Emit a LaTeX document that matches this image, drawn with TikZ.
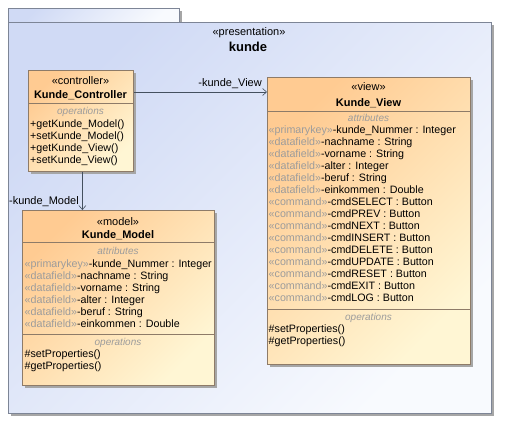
\documentclass[tikz,border=0pt]{standalone}
\usepackage{fontspec}
\setmainfont{Liberation Sans}
\usetikzlibrary{arrows.meta,shadows}
\definecolor{pkgA}{HTML}{D0DAF5}
\definecolor{pkgB}{HTML}{F8FAFE}
\definecolor{pkgLine}{HTML}{7D8596}
\definecolor{clsA}{HTML}{FFCB92}
\definecolor{clsB}{HTML}{FFF6D4}
\definecolor{clsLine}{HTML}{8E7B68}
\definecolor{stereo}{HTML}{9C9C9C}
\definecolor{conn}{HTML}{44505F}
\begin{document}
\begin{tikzpicture}[x=1pt,y=-1pt,
  shadowed/.style={general shadow={fill=black!35, shadow xshift=2.5pt, shadow yshift=-2.5pt}},
  pkgbox/.style={draw=pkgLine, line width=0.8pt, top color=pkgA, bottom color=pkgB, shading angle=45, inner sep=0pt, anchor=north west, shadowed},
  classbox/.style={draw=clsLine, line width=0.8pt, top color=clsA, bottom color=clsB, shading angle=45, inner sep=0pt, anchor=north west, shadowed},
  sepline/.style={draw=clsLine, line width=0.6pt},
  txt/.style={inner sep=0pt, anchor=base west, font=\fontsize{10.7}{12}\selectfont},
  ctxt/.style={inner sep=0pt, anchor=base, font=\fontsize{11}{12}\selectfont},
  ttl/.style={inner sep=0pt, anchor=base, font=\fontsize{11}{12}\selectfont\bfseries},
  comp/.style={inner sep=0pt, anchor=base, text=stereo, font=\fontsize{10}{12}\selectfont\itshape},
  assoc/.style={draw=conn, line width=0.6pt},
]
\useasboundingbox (0,0) rectangle (513,436);
\fill[white] (0,0) rectangle (513,436);

% package
\node[pkgbox, minimum width=171pt, minimum height=16pt] (tab) at (8,8) {};
\node[pkgbox, minimum width=483pt, minimum height=391pt] (pkg) at (8,22) {};
\node[ctxt] (pst) at (249,36) {«presentation»};
\node[inner sep=0pt, anchor=base, font=\fontsize{13}{14}\selectfont\bfseries] (pname) at (248,52) {kunde};

% controller
\node[classbox, minimum width=105pt, minimum height=101pt] (ctrl) at (28,70) {};
\node[ctxt] (cst) at (80.5,84) {«controller»};
\node[ttl] (cname) at (80.5,98) {Kunde\_Controller};
\draw[sepline] (ctrl.west |- 0,103) -- (ctrl.east |- 0,103);
\node[comp] (cops) at (80.5,114.5) {operations};
\foreach \tx [count=\i from 0] in {+getKunde\_Model(),+setKunde\_Model(),+getKunde\_View(),+setKunde\_View()}
  \node[txt] (c\i) at (30,127+12*\i) {\tx};

% view
\node[classbox, minimum width=203pt, minimum height=287pt] (view) at (267,77) {};
\node[ctxt] (vst) at (368.5,90) {«view»};
\node[ttl] (vname) at (368.5,106) {Kunde\_View};
\draw[sepline] (view.west |- 0,111) -- (view.east |- 0,111);
\node[comp] (vattr) at (368.5,121.5) {attributes};
\foreach \st/\tx [count=\i from 0] in {
  primarykey/-kunde\_Nummer : Integer,
  datafield/-nachname : String,
  datafield/-vorname : String,
  datafield/-alter : Integer,
  datafield/-beruf : String,
  datafield/-einkommen : Double,
  command/-cmdSELECT : Button,
  command/-cmdPREV : Button,
  command/-cmdNEXT : Button,
  command/-cmdINSERT : Button,
  command/-cmdDELETE : Button,
  command/-cmdUPDATE : Button,
  command/-cmdRESET : Button,
  command/-cmdEXIT : Button,
  command/-cmdLOG : Button}
  \node[txt] (v\i) at (268.5,133+12*\i) {\textcolor{stereo}{«\st»}\tx};
\draw[sepline] (view.west |- 0,309) -- (view.east |- 0,309);
\node[comp] (vops) at (368.5,320.5) {operations};
\node[txt] (vset) at (268.5,332) {\#setProperties()};
\node[txt] (vget) at (268.5,344) {\#getProperties()};

% model
\node[classbox, minimum width=192pt, minimum height=175pt] (model) at (22,210) {};
\node[ctxt] (mst) at (118,225) {«model»};
\node[ttl] (mname) at (118,238) {Kunde\_Model};
\draw[sepline] (model.west |- 0,242) -- (model.east |- 0,242);
\node[comp] (mattr) at (118,254.5) {attributes};
\foreach \st/\tx [count=\i from 0] in {
  primarykey/-kunde\_Nummer : Integer,
  datafield/-nachname : String,
  datafield/-vorname : String,
  datafield/-alter : Integer,
  datafield/-beruf : String,
  datafield/-einkommen : Double}
  \node[txt] (m\i) at (24.5,267+12*\i) {\textcolor{stereo}{«\st»}\tx};
\draw[sepline] (model.west |- 0,334) -- (model.east |- 0,334);
\node[comp] (mops) at (118,345.5) {operations};
\node[txt] (mset) at (24.5,357) {\#setProperties()};
\node[txt] (mget) at (24.5,369) {\#getProperties()};

% associations
\draw[assoc, -{Straight Barb[length=4pt,width=7pt]}] ([yshift=-22pt]ctrl.north east) coordinate (a1) -- (a1 -| view.west);
\node[inner sep=0pt, anchor=base east, font=\fontsize{11}{12}\selectfont] (lv) at (262,86) {-kunde\_View};
\draw[assoc, -{Straight Barb[length=4pt,width=7pt]}] ([xshift=1.5pt]ctrl.south) coordinate (a2) -- (a2 |- model.north);
\node[inner sep=0pt, anchor=base east, font=\fontsize{11}{12}\selectfont] (lm) at (79,204) {-kunde\_Model};
\end{tikzpicture}
\end{document}
